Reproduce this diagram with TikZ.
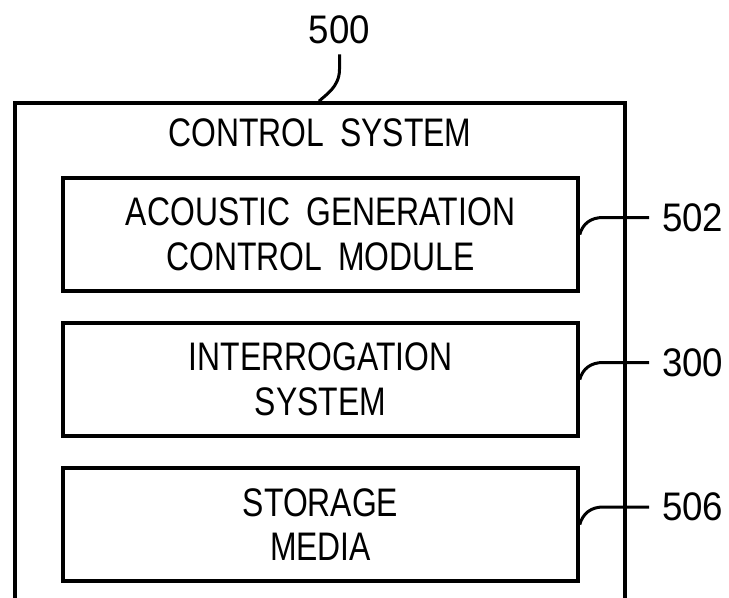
\documentclass[tikz,border=0pt]{standalone}
\usepackage{fontspec}
\newfontfamily\blockfont[FakeStretch=0.8,WordSpace=1.8]{Liberation Sans}
\newfontfamily\numfont[FakeStretch=0.92]{Liberation Sans}

\begin{document}
\begin{tikzpicture}[x=1bp,y=-1bp]
	% Parameters
	\def\boxw{515}
	\def\boxh{113}
	\def\framew{610}
	\def\frameh{537}
	\def\lw{3.5bp}
	\tikzset{
		frame/.style={draw, line width=\lw, minimum width=\framew bp, minimum height=\frameh bp, inner sep=0},
		block/.style={draw, line width=\lw, minimum width=\boxw bp, minimum height=\boxh bp, inner sep=0, align=center, font=\blockfont\fontsize{40}{45}\selectfont},
		caption/.style={inner sep=0, font=\blockfont\fontsize{40}{45}\selectfont},
		refnum/.style={inner sep=0, font=\numfont\fontsize{40}{45}\selectfont},
		leader/.style={line width=3bp}
	}
	\useasboundingbox (0,0) rectangle (729,598);
	
	%outer frame
	\node[frame] (ctrl) at (320,371.5) {};
	\node[caption] (title) at (320,132.5) {CONTROL SYSTEM};
	
	%blocks
	\node[block] (acgen) at (320.5,234.5) {ACOUSTIC GENERATION\\CONTROL MODULE};
	\node[block] (interr) at (320.5,379.5) {INTERROGATION\\SYSTEM};
	\node[block] (store) at (320.5,524.5) {STORAGE\\MEDIA};
	
	%reference numerals
	\node[refnum] (n500) at (339.5,30) {500};
	\node[refnum, anchor=west] (n502) at (662,217.5) {502};
	\node[refnum, anchor=west] (n300) at (662,362.5) {300};
	\node[refnum, anchor=west] (n506) at (662,507) {506};
	
	%leaders
	\draw[leader] ([yshift=-10bp]n500.south) -- ++(0,15) .. controls +(0,18) and +(6,-6) .. ([xshift=-1bp]ctrl.north);
	\draw[leader] (acgen.east) .. controls +(3,-11) and +(-12,0) .. ([xshift=-59bp]n502.west) -- ([xshift=-13bp]n502.west);
	\draw[leader] (interr.east) .. controls +(3,-11) and +(-12,0) .. ([xshift=-59bp]n300.west) -- ([xshift=-13bp]n300.west);
	\draw[leader] (store.east) .. controls +(3,-11) and +(-12,0) .. ([xshift=-59bp]n506.west) -- ([xshift=-13bp]n506.west);
	
\end{tikzpicture}
\end{document}
